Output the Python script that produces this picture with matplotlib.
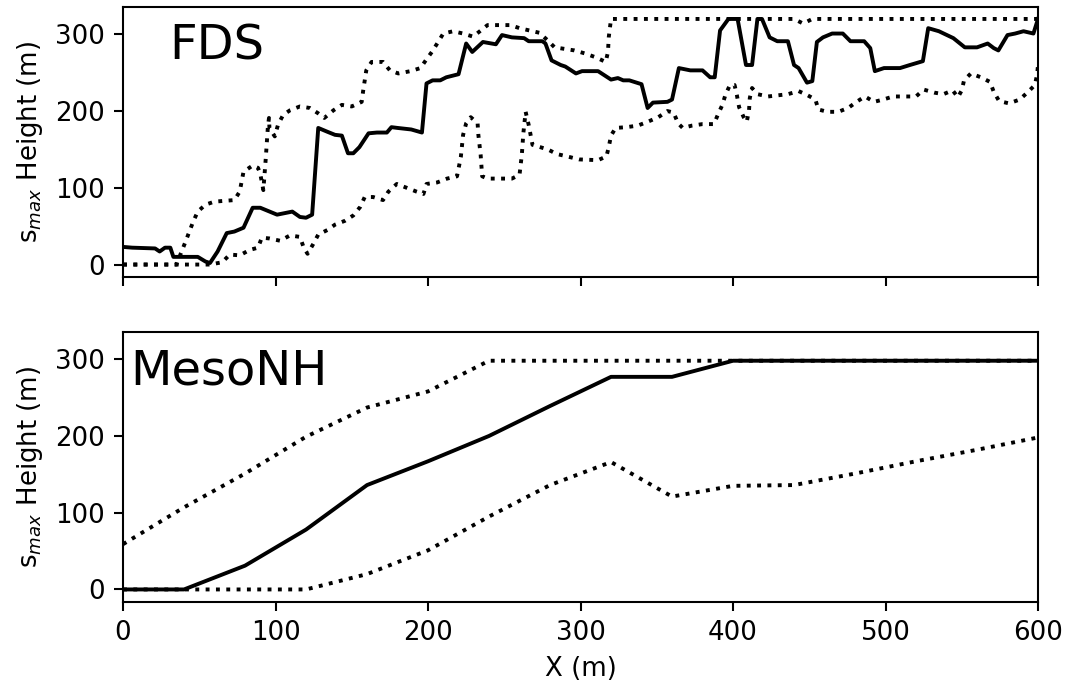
import matplotlib
matplotlib.use("Agg")
import matplotlib.pyplot as plt

# ---------------- FDS panel data ----------------
fds_mean_x = [0, 6, 21, 24, 27.5, 31, 33, 49, 54, 57, 62, 68, 73, 79, 85, 90, 101, 111, 116, 120,
              124, 128, 134, 139, 143.5, 147.5, 151, 155, 161, 166.5, 173, 176, 180, 189, 196, 199,
              203, 208, 212, 220, 225, 229, 236, 244.5, 248.5, 255, 263, 266, 275, 277, 281, 287,
              290, 297, 301, 311.5, 320, 324.5, 328, 332, 340, 344, 347.5, 357, 360, 364.5, 372,
              380, 385, 388, 391.5, 397, 403, 408.5, 412.5, 416, 419, 424, 429, 436, 440, 443,
              448.5, 452, 455, 459, 465, 472, 477, 486, 490, 493, 499, 509.5, 516, 524.5, 528, 535,
              544.5, 552, 560, 567, 571, 574, 580, 585, 590.5, 597, 600]
fds_mean_y = [23, 22, 21, 17, 22, 22, 10, 10, 4, 2, 17, 41, 43, 48, 74, 74, 65, 69, 62, 61,
              65, 178, 173, 169, 168, 145, 145, 153, 171, 172, 172, 179, 178, 176, 172, 236,
              240, 240, 244, 248, 288, 277, 290, 287, 299, 296, 295, 291, 291, 288, 266, 260,
              258, 249, 252, 252, 241, 243, 240, 240, 235, 204, 211, 212, 215, 256, 253,
              253, 244, 244, 305, 320, 320, 260, 260, 320, 320, 296, 291, 291, 260, 256,
              237, 239, 290, 296, 301, 301, 291, 291, 282, 252, 256, 256, 260, 265, 308, 304,
              295, 283, 283, 288, 282, 279, 299, 301, 304, 301, 320]

fds_upper_x = [0, 35, 41, 46, 49, 54, 60, 73, 76.5, 79, 85, 88.5, 90, 92, 93.5, 95, 95.7, 96, 99.5,
               101.6, 105, 109.5, 116, 122.5, 128, 132, 138, 143.5, 150, 156.5, 157.5, 159.5, 163,
               170.5, 175, 180.5, 188.5, 195, 198.5, 202.5, 206, 210, 216.5, 223, 229.5, 234, 239,
               254, 260, 273, 278.5, 283, 296, 303, 310, 316.5, 318, 318.5, 320, 440, 446, 452, 600]
fds_upper_y = [0, 0, 30, 56, 69, 78, 82, 84, 95, 121, 129, 126, 118, 97, 136, 180, 191, 178, 167,
               182, 195, 201, 206, 204, 197, 191, 201, 208, 206, 212, 227, 253, 264,
               264, 253, 249, 252, 256, 266, 277, 288, 301, 304, 301, 297, 304, 312,
               312, 308, 302, 292, 283, 279, 275, 270, 264, 277, 296, 320, 320, 314, 320, 320]

fds_lower_x = [0, 57, 65, 70, 76.5, 83, 88.5, 91, 96, 103, 109.5, 116, 118.5, 121, 124.5, 128, 134,
               139, 145.5, 151, 155.5, 158.5, 164, 170.5, 174, 179.5, 186, 192.5, 197, 199, 206,
               212.5, 219, 221.5, 223, 225, 228, 232.5, 233, 234.5, 235.5, 239, 255, 260, 261.5,
               262.5, 264, 266, 268.5, 273.5, 278.5, 284.5, 291, 299, 311.5, 317, 318.5, 320,
               323, 330, 337.5, 344, 351, 357, 361, 364, 367, 373, 380, 387.5, 390, 393, 395,
               398, 401, 402.5, 404, 407, 409, 410.5, 411, 412.5, 416, 423, 436, 443, 448.5,
               454, 456, 462, 469, 475.5, 481, 486.5, 492.5, 498.5, 505, 520, 525, 532, 538,
               544, 547.5, 550, 551.5, 556, 562.5, 568.5, 571, 574.5, 581, 588, 593.5, 598,
               599.5, 600]
fds_lower_y = [0, 0, 3, 13, 12, 19, 22, 35, 34, 31, 38, 36, 22, 14, 26, 39, 45,
               52, 57, 64, 75, 88, 88, 84, 95, 105, 100, 95, 92, 105, 107,
               112, 115, 140, 169, 184, 192, 184, 169, 143, 115, 112, 112, 117, 143,
               171, 199, 182, 156, 153, 150, 144, 141, 137, 136, 141, 153, 168,
               178, 179, 181, 186, 192, 200, 198, 184, 178, 181, 183, 183, 195, 208, 221,
               234, 234, 221, 205, 192, 186, 201, 217, 230, 222, 219, 222, 226, 221,
               215, 202, 199, 199, 204, 212, 219, 212, 215, 219, 219, 228, 224, 222,
               227, 218, 227, 240, 249, 244, 238, 225, 213, 210, 215, 225, 234,
               249, 260]

# ---------------- MesoNH panel data ----------------
meso_x = [0, 40, 80, 120, 160, 200, 240, 280, 320, 360, 400, 440, 480, 520, 560, 600]
meso_mean = [0, 0, 31, 78, 136, 167, 200, 239, 277, 277, 298, 298, 298, 298, 298, 298]
meso_upper = [59, 107, 151, 199, 237, 258, 298, 298, 298, 298, 298, 298, 298, 298, 298, 298]
meso_lower = [0, 0, 0, 0, 20, 51, 95, 136, 166, 121, 135, 136, 151, 167, 182, 198]

panel_names = ["FDS", "MesoNH"]
x_ticks = [0, 100, 200, 300, 400, 500, 600]
y_ticks = [0, 100, 200, 300]
ylabel = r"s$_{max}$ Height (m)"
xlabel = "X (m)"

DPI = 187
fig, (ax1, ax2) = plt.subplots(2, 1, sharex=True, sharey=True,
                               figsize=(1070 / DPI, 688 / DPI), dpi=DPI)
fig.subplots_adjust(left=0.115, right=0.9701, bottom=0.1254, top=0.9903, hspace=0.2026)

ax1.plot(fds_mean_x, fds_mean_y, color="k", linestyle="-", lw=1.5)
ax1.plot(fds_upper_x, fds_upper_y, color="k", linestyle=":", lw=1.5)
ax1.plot(fds_lower_x, fds_lower_y, color="k", linestyle=":", lw=1.5)

ax2.plot(meso_x, meso_mean, color="k", linestyle="-", lw=1.5)
ax2.plot(meso_x, meso_upper, color="k", linestyle=":", lw=1.5)
ax2.plot(meso_x, meso_lower, color="k", linestyle=":", lw=1.5)

ax1.set_xlim(0, 600)
ax1.set_xticks(x_ticks)
ax1.set_yticks(y_ticks)

ax1.text(0.05, 0.804, panel_names[0], transform=ax1.transAxes, fontsize=18.5,
         ha="left", va="baseline")
ax2.text(0.008, 0.803, panel_names[1], transform=ax2.transAxes, fontsize=18.5,
         ha="left", va="baseline")

ax1.set_ylabel(ylabel)
ax2.set_ylabel(ylabel)
ax2.set_xlabel(xlabel)

fig.savefig("out.png", dpi=DPI)
